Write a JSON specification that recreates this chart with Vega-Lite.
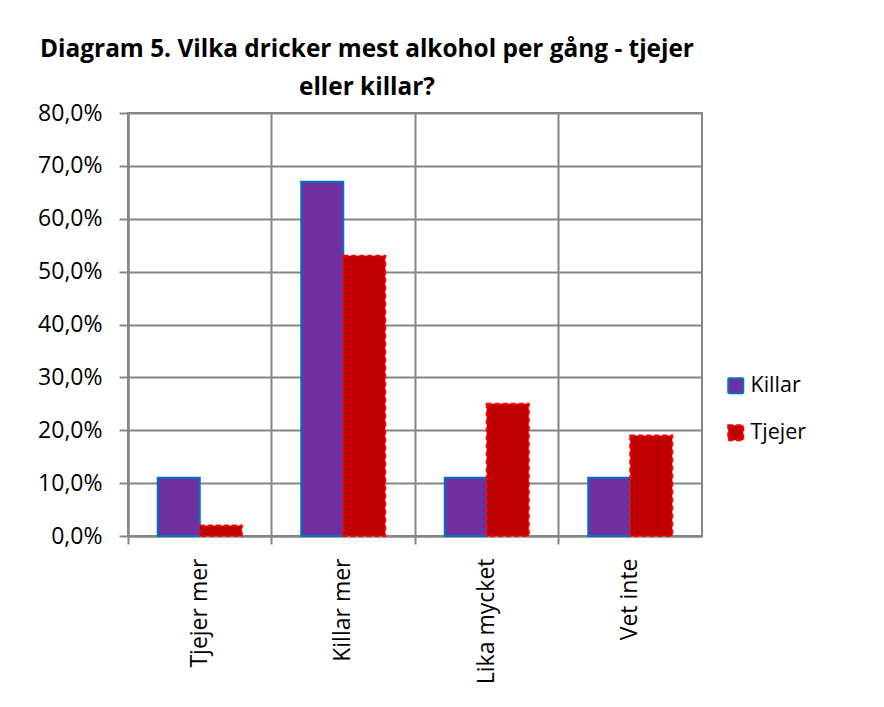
{
  "$schema": "https://vega.github.io/schema/vega-lite/v6.json",
  "width": 574,
  "height": 423,
  "autosize": {"type": "none"},
  "padding": {"left": 128, "top": 113, "right": 182, "bottom": 171},
  "background": "white",
  "title": {
    "text": ["Diagram 5. Vilka dricker mest alkohol per gång - tjejer", "eller killar?"],
    "font": "Open Sans",
    "fontSize": 24.4,
    "fontWeight": "bold",
    "color": "black",
    "anchor": "middle",
    "dx": -48,
    "lineHeight": 38,
    "offset": 2
  },
  "data": {
    "values": [
      {"kategori": "Tjejer mer", "serie": "Killar", "andel": 0.11},
      {"kategori": "Tjejer mer", "serie": "Tjejer", "andel": 0.02},
      {"kategori": "Killar mer", "serie": "Killar", "andel": 0.67},
      {"kategori": "Killar mer", "serie": "Tjejer", "andel": 0.53},
      {"kategori": "Lika mycket", "serie": "Killar", "andel": 0.11},
      {"kategori": "Lika mycket", "serie": "Tjejer", "andel": 0.25},
      {"kategori": "Vet inte", "serie": "Killar", "andel": 0.11},
      {"kategori": "Vet inte", "serie": "Tjejer", "andel": 0.19}
    ]
  },
  "mark": {"type": "bar", "strokeWidth": 2},
  "encoding": {
    "x": {
      "field": "kategori",
      "type": "nominal",
      "sort": ["Tjejer mer", "Killar mer", "Lika mycket", "Vet inte"],
      "scale": {"paddingInner": 0, "paddingOuter": 0},
      "axis": {
        "title": null,
        "labelAngle": -90,
        "labelFont": "Open Sans",
        "labelFontSize": 23,
        "labelColor": "black",
        "labelPadding": 14,
        "bandPosition": 0,
        "grid": true,
        "gridColor": "#868686",
        "gridWidth": 2,
        "domainColor": "#868686",
        "domainWidth": 2,
        "tickColor": "#868686",
        "tickWidth": 2,
        "tickSize": 8
      }
    },
    "xOffset": {
      "field": "serie",
      "type": "nominal",
      "scale": {"paddingInner": 0, "paddingOuter": 0.708}
    },
    "y": {
      "field": "andel",
      "type": "quantitative",
      "scale": {"domain": [0, 0.8], "nice": false},
      "axis": {
        "title": null,
        "values": [0, 0.1, 0.2, 0.3, 0.4, 0.5, 0.6, 0.7, 0.8],
        "labelExpr": "replace(format(datum.value, '.1%'), '.', ',')",
        "labelFont": "Open Sans",
        "labelFontSize": 23,
        "labelColor": "black",
        "labelPadding": 17,
        "grid": true,
        "gridColor": "#868686",
        "gridWidth": 2,
        "domainColor": "#868686",
        "domainWidth": 2,
        "tickColor": "#868686",
        "tickWidth": 2,
        "tickSize": 9
      }
    },
    "color": {
      "field": "serie",
      "type": "nominal",
      "scale": {"domain": ["Killar", "Tjejer"], "range": ["#7030A0", "#C00000"]},
      "legend": {
        "title": null,
        "orient": "none",
        "legendX": 597,
        "legendY": 262,
        "symbolType": "square",
        "symbolSize": 225,
        "symbolStrokeWidth": 2,
        "labelFont": "Open Sans",
        "labelFontSize": 21.5,
        "labelColor": "black",
        "rowPadding": 23,
        "labelOffset": 4
      }
    },
    "stroke": {
      "field": "serie",
      "type": "nominal",
      "scale": {"domain": ["Killar", "Tjejer"], "range": ["#0070C0", "#FF0000"]},
      "legend": null
    },
    "strokeDash": {
      "field": "serie",
      "type": "nominal",
      "scale": {"domain": ["Killar", "Tjejer"], "range": [[1, 0], [5, 3]]},
      "legend": null
    }
  },
  "config": {
    "view": {"stroke": "#868686", "strokeWidth": 2}
  }
}
